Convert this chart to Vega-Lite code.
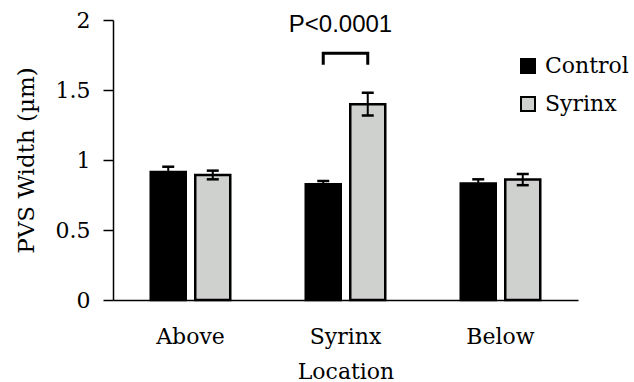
{
  "$schema": "https://vega.github.io/schema/vega-lite/v6.json",
  "width": 465,
  "height": 280,
  "autosize": "none",
  "padding": {"left": 113, "top": 20, "right": 56, "bottom": 82},
  "background": "white",
  "config": {"view": {"stroke": null}, "font": "DejaVu Serif"},
  "datasets": {
    "bars": [
      {"Location": "Above", "Group": "Control", "Width": 0.915, "Lo": 0.878, "Hi": 0.952},
      {"Location": "Above", "Group": "Syrinx", "Width": 0.893, "Lo": 0.862, "Hi": 0.924},
      {"Location": "Syrinx", "Group": "Control", "Width": 0.826, "Lo": 0.802, "Hi": 0.85},
      {"Location": "Syrinx", "Group": "Syrinx", "Width": 1.399, "Lo": 1.317, "Hi": 1.481},
      {"Location": "Below", "Group": "Control", "Width": 0.833, "Lo": 0.804, "Hi": 0.862},
      {"Location": "Below", "Group": "Syrinx", "Width": 0.86, "Lo": 0.82, "Hi": 0.9}
    ],
    "bracket": [
      {"Location": "Syrinx", "Group": "Control", "y": 1.68, "step": 1},
      {"Location": "Syrinx", "Group": "Control", "y": 1.762, "step": 2},
      {"Location": "Syrinx", "Group": "Syrinx", "y": 1.762, "step": 3},
      {"Location": "Syrinx", "Group": "Syrinx", "y": 1.68, "step": 4}
    ],
    "annot": [
      {"Location": "Syrinx", "label": "P<0.0001", "y": 1.912}
    ]
  },
  "encoding": {
    "x": {
      "field": "Location",
      "type": "nominal",
      "sort": ["Above", "Syrinx", "Below"],
      "scale": {"domain": ["Above", "Syrinx", "Below"], "paddingInner": 0, "paddingOuter": 0},
      "title": "Location",
      "axis": {
        "domainColor": "black",
        "domainWidth": 1.5,
        "ticks": false,
        "tickSize": 0,
        "labelAngle": 0,
        "labelFont": "DejaVu Serif",
        "labelFontSize": 22,
        "labelColor": "black",
        "labelPadding": 26,
        "titleFont": "DejaVu Serif",
        "titleFontSize": 22,
        "titleFontWeight": "normal",
        "titleColor": "black",
        "titleBaseline": "alphabetic",
        "titleY": 78
      }
    }
  },
  "layer": [
    {
      "data": {"name": "bars"},
      "mark": {"type": "bar", "stroke": "black", "strokeWidth": 2.5},
      "encoding": {
        "xOffset": {
          "field": "Group",
          "type": "nominal",
          "scale": {"domain": ["Control", "Syrinx"], "paddingInner": 0.2135, "paddingOuter": 0.848}
        },
        "y": {
          "field": "Width",
          "type": "quantitative",
          "scale": {"domain": [0, 2], "nice": false},
          "title": "PVS Width (µm)",
          "axis": {
            "values": [0, 0.5, 1, 1.5, 2],
            "format": "~g",
            "grid": false,
            "domainColor": "black",
            "domainWidth": 1.5,
            "tickColor": "black",
            "tickWidth": 1.5,
            "tickSize": 10,
            "labelFont": "DejaVu Serif",
            "labelFontSize": 22,
            "labelColor": "black",
            "labelPadding": 13,
            "titleFont": "DejaVu Serif",
            "titleFontSize": 23,
            "titleFontWeight": "normal",
            "titleColor": "black",
            "titleAngle": 270,
            "titleBaseline": "middle",
            "titleAlign": "center",
            "titleX": -87,
            "titleY": 140
          }
        },
        "fill": {
          "field": "Group",
          "type": "nominal",
          "scale": {"domain": ["Control", "Syrinx"], "range": ["black", "#cfd1cf"]},
          "legend": {
            "title": null,
            "orient": "none",
            "legendX": 404,
            "legendY": 35,
            "padding": 0,
            "symbolType": "square",
            "symbolSize": 196,
            "symbolStrokeColor": "black",
            "symbolStrokeWidth": 2,
            "symbolOpacity": 1,
            "labelFont": "DejaVu Serif",
            "labelFontSize": 22,
            "labelColor": "black",
            "labelOffset": 6,
            "labelLimit": 200,
            "rowPadding": 16
          }
        }
      }
    },
    {
      "data": {"name": "bars"},
      "mark": {"type": "rule", "color": "black", "strokeWidth": 2},
      "encoding": {
        "xOffset": {"field": "Group", "type": "nominal"},
        "y": {"field": "Lo", "type": "quantitative"},
        "y2": {"field": "Hi"}
      }
    },
    {
      "data": {"name": "bars"},
      "mark": {"type": "tick", "color": "black", "thickness": 2.5, "size": 12, "opacity": 1},
      "encoding": {
        "xOffset": {"field": "Group", "type": "nominal"},
        "y": {"field": "Hi", "type": "quantitative"}
      }
    },
    {
      "data": {"name": "bars"},
      "mark": {"type": "tick", "color": "black", "thickness": 2.5, "size": 12, "opacity": 1},
      "encoding": {
        "xOffset": {"field": "Group", "type": "nominal"},
        "y": {"field": "Lo", "type": "quantitative"}
      }
    },
    {
      "data": {"name": "bracket"},
      "mark": {"type": "line", "color": "black", "strokeWidth": 3, "strokeJoin": "miter"},
      "encoding": {
        "xOffset": {"field": "Group", "type": "nominal"},
        "y": {"field": "y", "type": "quantitative"},
        "order": {"field": "step", "type": "quantitative"}
      }
    },
    {
      "data": {"name": "annot"},
      "mark": {"type": "text", "font": "Liberation Sans", "fontSize": 24, "baseline": "alphabetic", "align": "center", "dx": -5, "color": "black"},
      "encoding": {
        "y": {"field": "y", "type": "quantitative"},
        "text": {"field": "label"}
      }
    }
  ]
}
